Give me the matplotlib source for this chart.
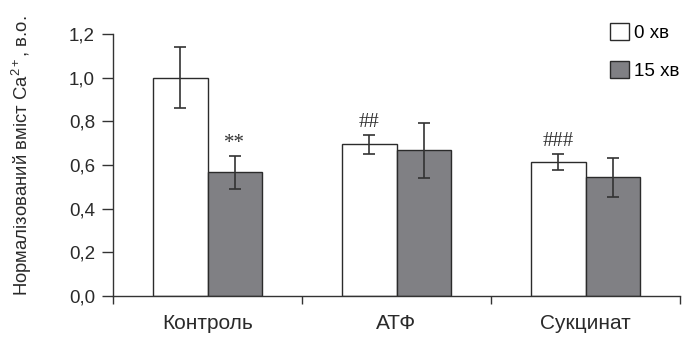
import matplotlib
matplotlib.use("Agg")
import matplotlib.pyplot as plt
from matplotlib.patches import Patch
import numpy as np

categories = ["Контроль", "АТФ", "Сукцинат"]
series_names = ["0 хв", "15 хв"]
vals_0 = [1.00, 0.695, 0.613]
err_0 = [0.14, 0.044, 0.038]
vals_15 = [0.567, 0.667, 0.543]
err_15 = [0.076, 0.125, 0.088]
marks_0 = ["", "##", "###"]
marks_15 = ["**", "", ""]
yticks = [0.0, 0.2, 0.4, 0.6, 0.8, 1.0, 1.2]
ytick_labels = ["0,0", "0,2", "0,4", "0,6", "0,8", "1,0", "1,2"]

plt.rcParams['font.family'] = ['Liberation Sans', 'DejaVu Sans']
plt.rcParams['mathtext.fontset'] = 'custom'
plt.rcParams['mathtext.rm'] = 'Liberation Sans'
plt.rcParams['mathtext.it'] = 'Liberation Sans'
plt.rcParams['mathtext.bf'] = 'Liberation Sans'

fig = plt.figure(figsize=(6.84, 3.38), dpi=100)
ax = fig.add_axes([113/684, 1-296/338, (680-113)/684, (296-34)/338])

edge = "#2b2b2b"
gray = "#808084"
txtc = "#2a2a2a"
w = 0.29
x = np.arange(len(categories)) + 0.5
ekw = dict(ecolor="#333333", elinewidth=1.2, capsize=4, capthick=1.2)
ax.bar(x - w/2, vals_0, w, color="white", edgecolor=edge, linewidth=1.0,
       yerr=err_0, error_kw=ekw, zorder=2)
ax.bar(x + w/2, vals_15, w, color=gray, edgecolor=edge, linewidth=1.0,
       yerr=err_15, error_kw=ekw, zorder=2)

for xi, v, e, m in zip(x - w/2, vals_0, err_0, marks_0):
    if m:
        ax.text(xi, v + e + 0.012, m, ha="center", va="bottom",
                family="Liberation Serif", fontsize=15, color="#333333")
for xi, v, e, m in zip(x + w/2, vals_15, err_15, marks_15):
    if m:
        ax.text(xi, v + e + 0.012, m, ha="center", va="bottom",
                family="Liberation Serif", fontsize=15, color="#333333")

ax.set_xlim(0, 3)
ax.set_ylim(0, 1.2)
ax.set_yticks(yticks)
ax.set_yticklabels(ytick_labels, fontsize=13.5, color=txtc)
ax.set_xticks([0, 1, 2, 3])
ax.set_xticklabels([])
ax.set_xticks(x, minor=True)
ax.set_xticklabels(categories, minor=True, fontsize=15, color=txtc)
ax.tick_params(axis="x", which="minor", length=0, pad=13)
ax.tick_params(axis="x", which="major", length=6, width=1, color="#333333", direction="out")
ax.tick_params(axis="y", length=8, width=1, color="#333333", direction="out", pad=5)

for s in ["top", "right"]:
    ax.spines[s].set_visible(False)
for s in ["left", "bottom"]:
    ax.spines[s].set_color("#333333")
    ax.spines[s].set_linewidth(1.0)

ax.set_ylabel("Нормалізований вміст Ca$^{2+}$, в.о.", fontsize=13.3, color=txtc)
ax.yaxis.set_label_coords(-0.14, 0.535)

handles = [Patch(facecolor="white", edgecolor=edge, linewidth=1.0),
           Patch(facecolor=gray, edgecolor=edge, linewidth=1.0)]
ax.legend(handles, series_names, loc="upper right", bbox_to_anchor=(1.012, 1.07),
          frameon=False, fontsize=13.5, handlelength=1.0, handleheight=1.0,
          handletextpad=0.25, labelspacing=1.0, borderaxespad=0)

fig.savefig("out.png", dpi=100)
